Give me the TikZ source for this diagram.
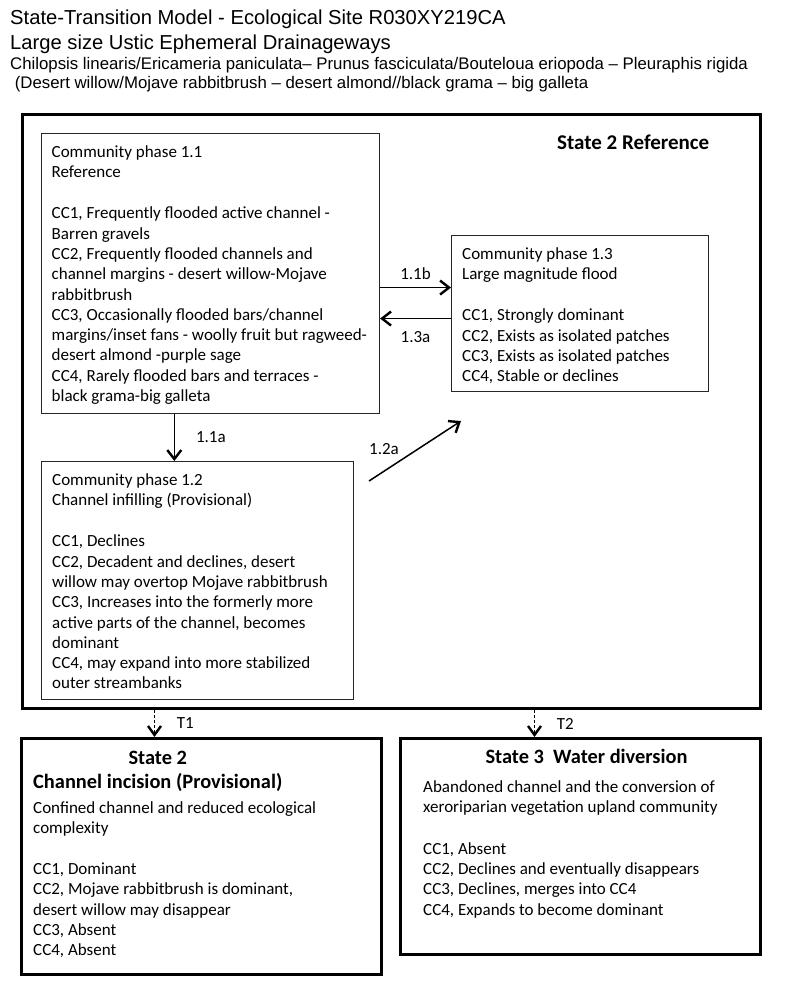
\documentclass[tikz,border=0pt]{standalone}
\usepackage{fontspec}
\setmainfont{Carlito}
\newfontfamily\arialfont{Liberation Sans}
\usetikzlibrary{arrows.meta,positioning}
\newcommand{\firststrut}{\rule{0pt}{14pt}}
\newcommand{\headstrut}{\rule{0pt}{16pt}}

\tikzset{
	phase/.style={draw=black!85, line width=1.1pt, anchor=north west, inner sep=0pt},
	statebox/.style={draw, line width=3pt, anchor=north west, inner sep=0pt},
	txt/.style={anchor=north west, align=left, inner sep=0pt, font=\fontsize{17}{20.3}\selectfont},
	lbl/.style={inner sep=0pt, font=\fontsize{17}{20.3}\selectfont},
	head/.style={inner sep=0pt, font=\bfseries\fontsize{20.4}{24}\selectfont},
	ttl/.style={anchor=base west, inner sep=0pt, font=\arialfont\fontsize{20.2}{24}\selectfont},
	subttl/.style={anchor=base west, inner sep=0pt, font=\arialfont\fontsize{16.8}{20}\selectfont},
	trans/.style={line width=1.5pt, -{Straight Barb[length=9pt,width=14pt,line width=2.4pt]}},
	dtrans/.style={line width=0.9pt, dash pattern=on 3pt off 2pt, -{Straight Barb[length=9pt,width=13pt,line width=2.4pt]}},
}

\begin{document}
\begin{tikzpicture}[x=1pt, y=-1pt]
	\useasboundingbox (0,0) rectangle (800,984);
	
	%%% title
	\node[ttl] (title1) at (10,25) {State-Transition Model - Ecological Site R030XY219CA};
	\node[ttl] (title2) at (10,50) {Large size Ustic Ephemeral Drainageways};
	\node[subttl] (title3) at (10,70) {Chilopsis linearis/Ericameria paniculata– Prunus fasciculata/Bouteloua eriopoda – Pleuraphis rigida};
	\node[subttl] (title4) at (10,89) {\ (Desert willow/Mojave rabbitbrush – desert almond//black grama – big galleta};
	
	%%% reference state
	\node[statebox, minimum width=738pt, minimum height=594pt] (ref) at (21,113) {};
	\node[head, anchor=base west, font=\bfseries\fontsize{21}{24}\selectfont] (reftitle) at (557,150) {State 2 Reference};
	
	\node[phase, minimum width=338.5pt, minimum height=279.5pt] (p11) at (40.5,133) {};
	\node[phase, minimum width=257pt, minimum height=156pt] (p13) at (451,235) {};
	\node[phase, minimum width=312pt, minimum height=238pt] (p12) at (41,461) {};
	
	\node[txt] (p11txt) at ([shift={(11pt,-10pt)}]p11.north west) {\firststrut Community phase 1.1\\
		Reference\\[21pt]
		CC1, Frequently flooded active channel -\\
		Barren gravels\\
		CC2, Frequently flooded channels and\\
		channel margins - desert willow-Mojave\\
		rabbitbrush\\
		CC3, Occasionally flooded bars/channel\\
		margins/inset fans - woolly fruit but ragweed-\\
		desert almond -purple sage\\
		CC4, Rarely flooded bars and terraces -\\
		black grama-big galleta};
	
	\node[txt] (p13txt) at ([shift={(11pt,-10pt)}]p13.north west) {\firststrut Community phase 1.3\\
		Large magnitude flood\\[21pt]
		CC1, Strongly dominant\\
		CC2, Exists as isolated patches\\
		CC3, Exists as isolated patches\\
		CC4, Stable or declines};
	
	\node[txt] (p12txt) at ([shift={(11pt,-10pt)}]p12.north west) {\firststrut Community phase 1.2\\
		Channel infilling (Provisional)\\[21pt]
		CC1, Declines\\
		CC2, Decadent and declines, desert\\
		willow may overtop Mojave rabbitbrush\\
		CC3, Increases into the formerly more\\
		active parts of the channel, becomes\\
		dominant\\
		CC4, may expand into more stabilized\\
		outer streambanks};
	
	%%% pathways
	\coordinate (b11) at ([yshift=26pt]p13.west);
	\coordinate (b13) at ([yshift=-5pt]p13.west);
	\draw[trans] (p11.east |- b11) -- (b11) node[lbl, midway, above=7pt] (l11b) {1.1b};
	\draw[trans] (b13) -- (p11.east |- b13) node[lbl, midway, below=12pt] (l13a) {1.3a};
	
	\coordinate (a11) at ([xshift=-36pt]p11.south);
	\draw[trans] (a11) -- (a11 |- p12.north) node[lbl, midway, right=21pt] (l11a) {1.1a};
	
	\coordinate (a12s) at (369,481);
	\coordinate (a12e) at (461,421);
	\draw[trans] (a12s) -- (a12e);
	\node[lbl] (l12a) at (384,449) {1.2a};
	
	%%% other states
	\node[statebox, minimum width=360pt, minimum height=236pt] (s2) at (20,737) {};
	\node[statebox, minimum width=360pt, minimum height=216pt] (s3) at (399,737) {};
	
	\node[head, anchor=north west, align=center] (s2head) at ([shift={(13pt,-11pt)}]s2.north west) {\headstrut State 2\\Channel incision (Provisional)};
	\node[txt] (s2txt) at ([shift={(13pt,-62pt)}]s2.north west) {\firststrut Confined channel and reduced ecological\\
		complexity\\[20.7pt]
		CC1, Dominant\\
		CC2, Mojave rabbitbrush is dominant,\\
		desert willow may disappear\\
		CC3, Absent\\
		CC4, Absent};
	
	\node[head, anchor=base] (s3head) at ([shift={(6pt,-26pt)}]s3.north) {State 3\ \ Water diversion};
	\node[txt] (s3txt) at ([shift={(24pt,-41pt)}]s3.north west) {\firststrut Abandoned channel and the conversion of\\
		xeroriparian vegetation upland community\\[21.5pt]
		CC1, Absent\\
		CC2, Declines and eventually disappears\\
		CC3, Declines, merges into CC4\\
		CC4, Expands to become dominant};
	
	%%% transitions
	\coordinate (t1) at ([xshift=-47pt]s2.north);
	\coordinate (t2) at ([xshift=-46pt]s3.north);
	\draw[dtrans] (ref.south -| t1) -- (t1) node[lbl, midway, right=22pt] (lt1) {T1};
	\draw[dtrans] (ref.south -| t2) -- (t2) node[lbl, midway, right=22pt] (lt2) {T2};
\end{tikzpicture}
\end{document}
